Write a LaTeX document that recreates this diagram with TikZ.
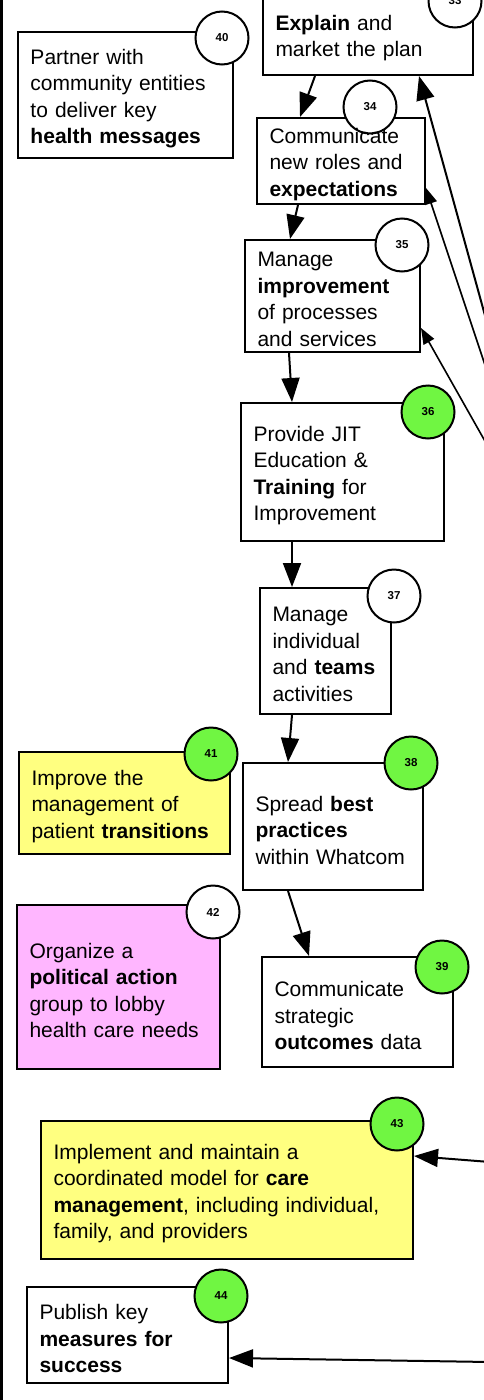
\documentclass[tikz,border=0pt]{standalone}
\usepackage{fontspec}
\setmainfont{Liberation Sans}
\usetikzlibrary{arrows.meta}
\definecolor{gnum}{RGB}{112,246,66}
\definecolor{ybox}{RGB}{255,255,128}
\definecolor{pbox}{RGB}{255,182,255}
\tikzset{
  boxnode/.style={draw=black, line width=2pt, fill=white, inner sep=0pt},
  txtnode/.style={inner xsep=12.5pt, inner ysep=0pt, align=left, yshift=-3.5pt, font=\fontsize{21}{26.5}\selectfont},
  numnode/.style={circle, draw=black, line width=2pt, fill=white, minimum size=53pt, inner sep=0pt, font=\fontsize{11.5}{13}\selectfont\bfseries},
  bigarrow/.style={line width=2pt, -{Triangle[length=24pt,width=18pt]}},
  smallarrow/.style={line width=1.6pt, -{Triangle[length=16pt,width=12pt]}}
}
\newcommand{\mybox}[6]{% name, cx, cy, w, h, fill
  \node[boxnode, fill=#6, minimum width=#4pt, minimum height=#5pt] (#1) at (#2,#3) {};}
\begin{document}
\begin{tikzpicture}[x=1pt,y=1pt]
\useasboundingbox (0,0) rectangle (483,-1400);
% left frame line
\coordinate (ltop) at (1.5,10);
\coordinate (lbot) at (1.5,-1410);
\draw[line width=3pt] (ltop) -- (lbot);

% boxes
\mybox{b33}{368}{-34.5}{210}{81}{white}
\mybox{b40}{125.5}{-95}{215}{126}{white}
\mybox{b34}{341}{-161}{168}{86}{white}
\mybox{b35}{332.5}{-296}{175}{112}{white}
\mybox{b36}{342.5}{-472}{203}{138}{white}
\mybox{b37}{325.5}{-651}{131}{126}{white}
\mybox{b41}{124.5}{-803}{211}{102}{ybox}
\mybox{b38}{333}{-826.5}{180}{127}{white}
\mybox{b42}{118.5}{-987}{203}{164}{pbox}
\mybox{b39}{357.5}{-1012}{191}{110}{white}
\mybox{b43}{227}{-1190}{372}{138}{ybox}
\mybox{b44}{127.5}{-1335}{201}{96}{white}

% number circles
\node[numnode] (c33) at (455,-1) {33};
\node[numnode] (c40) at (222,-38) {40};
\node[numnode] (c34) at (370,-107) {34};
\node[numnode] (c35) at (402,-245) {35};
\node[numnode, fill=gnum] (c36) at (428,-412) {36};
\node[numnode] (c37) at (394,-596) {37};
\node[numnode, fill=gnum] (c41) at (211,-754) {41};
\node[numnode, fill=gnum] (c38) at (411,-763) {38};
\node[numnode] (c42) at (213,-912) {42};
\node[numnode, fill=gnum] (c39) at (442,-967) {39};
\node[numnode, fill=gnum] (c43) at (397,-1124) {43};
\node[numnode, fill=gnum] (c44) at (221,-1296) {44};

% texts
\node[txtnode, text width=185pt] (t33) at (b33.center) {\textbf{Explain} and\\market the plan};
\node[txtnode, text width=190pt] (t40) at (b40.center) {Partner with\\community entities\\to deliver key\\\textbf{health messages}};
\node[txtnode, text width=143pt] (t34) at (b34.center) {Communicate\\new roles and\\\textbf{expectations}};
\node[txtnode, text width=150pt] (t35) at (b35.center) {Manage\\\textbf{improvement}\\of processes\\and services};
\node[txtnode, text width=178pt] (t36) at (b36.center) {Provide JIT\\Education \&\\\textbf{Training} for\\Improvement};
\node[txtnode, text width=106pt] (t37) at (b37.center) {Manage\\individual\\and \textbf{teams}\\activities};
\node[txtnode, text width=186pt] (t41) at (b41.center) {Improve the\\management of\\patient \textbf{transitions}};
\node[txtnode, text width=155pt] (t38) at (b38.center) {Spread \textbf{best}\\\textbf{practices}\\within Whatcom};
\node[txtnode, text width=178pt] (t42) at (b42.center) {Organize a\\\textbf{political action}\\group to lobby\\health care needs};
\node[txtnode, text width=166pt] (t39) at (b39.center) {Communicate\\strategic\\\textbf{outcomes} data};
\node[txtnode, text width=347pt] (t43) at (b43.center) {Implement and maintain a\\coordinated model for \textbf{care}\\\textbf{management}, including individual,\\family, and providers};
\node[txtnode, text width=176pt] (t44) at (b44.center) {Publish key\\\textbf{measures for}\\\textbf{success}};

% internal connectors
\draw[bigarrow] ([xshift=-53pt]b33.south) -- ([xshift=-41pt]b34.north);
\draw[bigarrow] ([xshift=-43pt]b34.south) -- ([xshift=-42.5pt]b35.north);
\draw[bigarrow] ([xshift=-43.5pt]b35.south) -- ([xshift=-50.5pt]b36.north);
\draw[bigarrow] ([xshift=-50.5pt]b36.south) -- ([xshift=-33.5pt]b37.north);
\draw[bigarrow] ([xshift=-33.5pt]b37.south) -- ([xshift=-45pt]b38.north);
\draw[bigarrow] ([xshift=-45pt]b38.south) -- ([xshift=-48.5pt]b39.north);

% connectors from outside the picture
\coordinate (e33) at (489,-330);
\coordinate (e34) at (490,-380);
\coordinate (e35) at (490,-450);
\coordinate (e43) at (490,-1162);
\coordinate (e44) at (490,-1362);
\draw[bigarrow] (e33) -- ([xshift=51pt]b33.south);
\draw[smallarrow] (e34) -- ([yshift=-27pt]b34.east);
\draw[smallarrow] (e35) -- ([yshift=-32pt]b35.east);
\draw[bigarrow] (e43) -- ([yshift=34pt]b43.east);
\draw[bigarrow] (e44) -- ([yshift=-23pt]b44.east);
\end{tikzpicture}
\end{document}
